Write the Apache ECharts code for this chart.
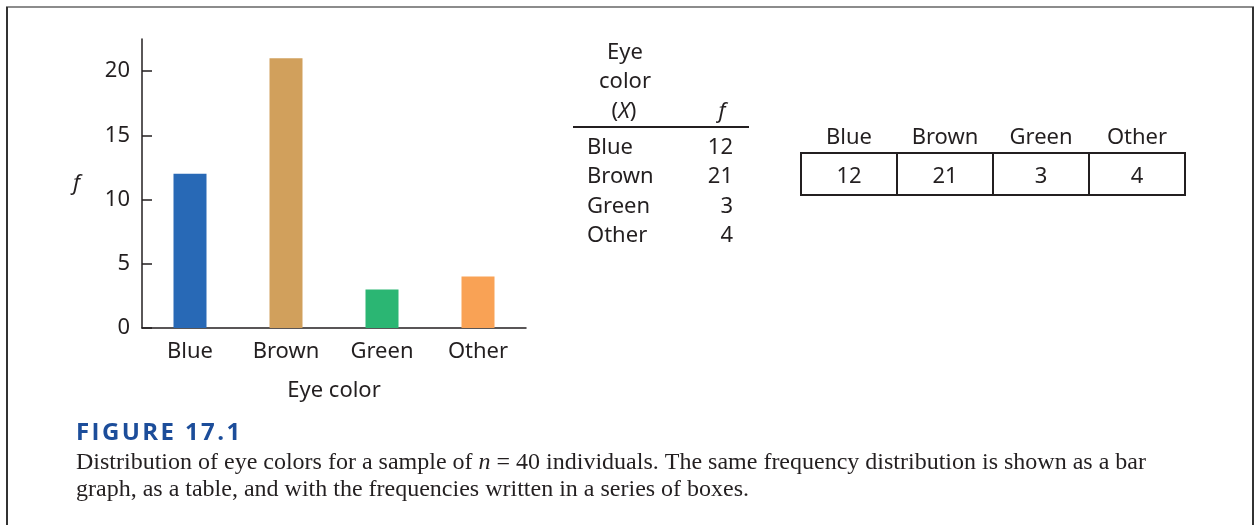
<!DOCTYPE html>
<html>
<head>
<meta charset="utf-8">
<script src="https://cdn.jsdelivr.net/npm/echarts@6/dist/echarts.min.js"></script>
<style>
  html, body { margin: 0; padding: 0; background: #fff; }
  #main { width: 1257px; height: 525px; }
</style>
</head>
<body>
<div id="main"></div>
<script>
// data
var eyeColors = ['Blue', 'Brown', 'Green', 'Other'];
var freq = [12, 21, 3, 4];
var barColors = ['#2869b6', '#d1a05c', '#2bb673', '#f9a255'];
var yTicks = [0, 5, 10, 15, 20];
var figLabel = 'FIGURE 17.1';
var captionLine1 = '{t|Distribution of eye colors for a sample of }{i|n}{t| = 40 individuals. The same frequency distribution is shown as a bar}';
var captionLine2 = 'graph, as a table, and with the frequencies written in a series of boxes.';

var ink = '#231f20';
var sans = '"Noto Sans", sans-serif';
var serif = '"Liberation Serif", "DejaVu Serif", serif';

// no letterSpacing in zrender, so pad the figure label with hair spaces
var figLabelSpaced = figLabel.split('').join('\u200A');

var chart = echarts.init(document.getElementById('main'));

var option = {
    animation: false,
    backgroundColor: '#fff',
    grid: [
        { left: 142, top: 39, width: 384, height: 289 },   // bar graph
        { left: 573, top: 131.5, width: 176, height: 118 }, // table
        { left: 801, top: 153, width: 384, height: 42 }    // boxes
    ],
    xAxis: [
        {
            gridIndex: 0,
            type: 'category',
            data: eyeColors,
            axisLine: { lineStyle: { color: ink, width: 1.5 } },
            axisTick: { show: false },
            axisLabel: { color: ink, fontSize: 22, fontFamily: sans, margin: 13 },
            name: 'Eye color',
            nameLocation: 'middle',
            nameGap: 52,
            nameTextStyle: { color: ink, fontSize: 22, fontFamily: sans }
        },
        { gridIndex: 1, type: 'value', min: 0, max: 1, show: false },
        {
            gridIndex: 2,
            type: 'category',
            data: eyeColors,
            position: 'top',
            axisLine: { show: false },
            axisTick: { show: false },
            axisLabel: { color: ink, fontSize: 22, fontFamily: sans, margin: 4 }
        }
    ],
    yAxis: [
        {
            gridIndex: 0,
            type: 'value',
            min: 0,
            max: 22.5,
            splitLine: { show: false },
            axisLine: { show: true, lineStyle: { color: ink, width: 1.5 } },
            axisTick: { show: true, inside: true, length: 10, customValues: yTicks, lineStyle: { color: ink, width: 1.5 } },
            axisLabel: { color: ink, fontSize: 22, fontFamily: sans, margin: 12, customValues: yTicks },
            name: 'f',
            nameLocation: 'middle',
            nameRotate: 0,
            nameGap: 62,
            nameTextStyle: { color: ink, fontSize: 22, fontFamily: sans, fontStyle: 'italic' }
        },
        { gridIndex: 1, type: 'category', data: eyeColors, inverse: true, show: false },
        { gridIndex: 2, type: 'category', data: ['f'], show: false }
    ],
    series: [
        {
            name: 'f',
            type: 'bar',
            barWidth: 33,
            data: freq.map(function (v, i) {
                return { value: v, itemStyle: { color: barColors[i] } };
            })
        },
        {
            // the frequency table
            type: 'custom',
            xAxisIndex: 1,
            yAxisIndex: 1,
            silent: true,
            encode: { x: 0, y: 1 },
            data: eyeColors.map(function (c, i) { return [0, c, freq[i]]; }),
            renderItem: function (params, api) {
                var cs = params.coordSys;
                var pt = api.coord([0, api.value(1)]);
                return {
                    type: 'group',
                    children: [
                        {
                            type: 'text', x: cs.x + 14, y: pt[1] + 1,
                            style: { text: eyeColors[params.dataIndex], fill: ink, fontSize: 22, fontFamily: sans, align: 'left', verticalAlign: 'middle' }
                        },
                        {
                            type: 'text', x: cs.x + cs.width - 16, y: pt[1] + 1,
                            style: { text: String(api.value(2)), fill: ink, fontSize: 22, fontFamily: sans, align: 'right', verticalAlign: 'middle' }
                        }
                    ]
                };
            }
        },
        {
            // series of boxes
            type: 'custom',
            xAxisIndex: 2,
            yAxisIndex: 2,
            silent: true,
            encode: { x: 0, y: 1 },
            data: eyeColors.map(function (c, i) { return [c, 'f', freq[i]]; }),
            renderItem: function (params, api) {
                var c = api.coord([api.value(0), api.value(1)]);
                var s = api.size([1, 1]);
                return {
                    type: 'group',
                    children: [
                        {
                            type: 'rect',
                            shape: { x: c[0] - s[0] / 2, y: c[1] - s[1] / 2, width: s[0], height: s[1] },
                            style: { fill: '#fff', stroke: ink, lineWidth: 2 }
                        },
                        {
                            type: 'text', x: c[0], y: c[1] + 3,
                            style: { text: String(api.value(2)), fill: ink, fontSize: 22, fontFamily: sans, align: 'center', verticalAlign: 'middle' }
                        }
                    ]
                };
            }
        }
    ],
    graphic: [
        // frame
        { type: 'line', shape: { x1: 6, y1: 7, x2: 1254, y2: 7 }, style: { stroke: '#8c8c8c', lineWidth: 2 } },
        { type: 'line', shape: { x1: 7, y1: 7, x2: 7, y2: 525 }, style: { stroke: '#333', lineWidth: 2 } },
        { type: 'line', shape: { x1: 1253, y1: 7, x2: 1253, y2: 525 }, style: { stroke: '#333', lineWidth: 2 } },
        // table header
        { type: 'text', x: 625, y: 53, style: { text: 'Eye', fill: ink, fontSize: 22, fontFamily: sans, align: 'center', verticalAlign: 'middle' } },
        { type: 'text', x: 625, y: 82, style: { text: 'color', fill: ink, fontSize: 22, fontFamily: sans, align: 'center', verticalAlign: 'middle' } },
        {
            type: 'text', x: 624, y: 112,
            style: {
                text: '{a|(}{b|X}{a|)}', align: 'center', verticalAlign: 'middle',
                rich: {
                    a: { fill: ink, fontSize: 22, fontFamily: sans },
                    b: { fill: ink, fontSize: 22, fontFamily: sans, fontStyle: 'italic' }
                }
            }
        },
        { type: 'text', x: 722, y: 112, style: { text: 'f', fill: ink, fontSize: 22, fontFamily: sans, fontStyle: 'italic', align: 'center', verticalAlign: 'middle' } },
        { type: 'line', shape: { x1: 573, y1: 127, x2: 749, y2: 127 }, style: { stroke: ink, lineWidth: 2 } },
        // caption
        { type: 'text', x: 76, y: 433, style: { text: figLabelSpaced, fill: '#1c4d9a', fontSize: 24, fontWeight: 'bold', fontFamily: '"Open Sans", sans-serif', align: 'left', verticalAlign: 'middle' } },
        {
            type: 'text', x: 76, y: 463,
            style: {
                text: captionLine1, align: 'left', verticalAlign: 'middle',
                rich: {
                    t: { fill: ink, fontSize: 24, fontFamily: serif },
                    i: { fill: ink, fontSize: 24, fontFamily: serif, fontStyle: 'italic' }
                }
            }
        },
        { type: 'text', x: 76, y: 490, style: { text: captionLine2, fill: ink, fontSize: 24, fontFamily: serif, align: 'left', verticalAlign: 'middle' } }
    ]
};

chart.setOption(option);
</script>
</body>
</html>
